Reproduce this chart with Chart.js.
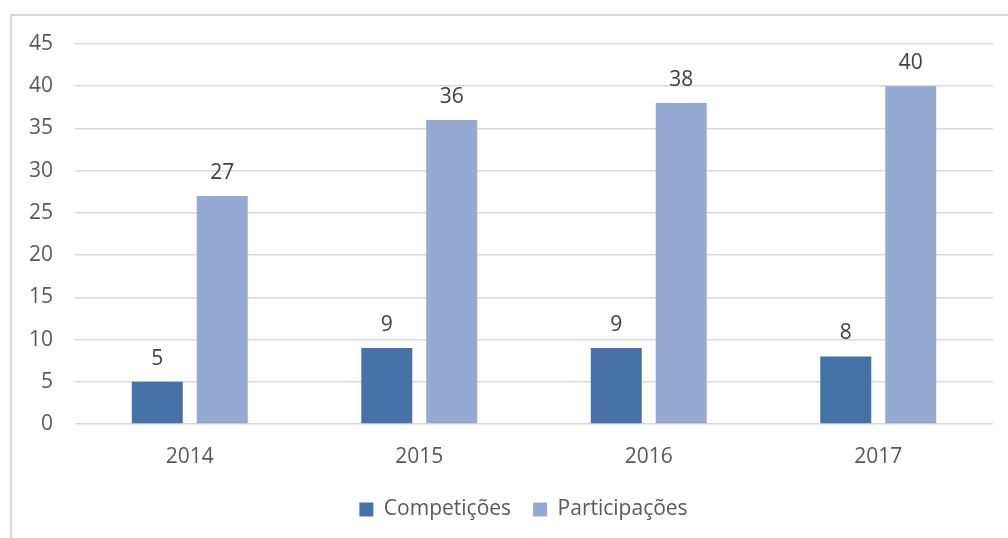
<!DOCTYPE html>
<html>
<head>
<meta charset="utf-8">
<script src="https://cdn.jsdelivr.net/npm/chart.js@4"></script>
<style>
  html, body { margin: 0; padding: 0; background: #fff; }
  #wrap { width: 1008px; height: 538px; position: relative; }
</style>
</head>
<body>
<div id="wrap"><canvas id="chart" width="1008" height="538"></canvas></div>
<script>
// chart values
const years = ['2014', '2015', '2016', '2017'];
const competicoes = [5, 9, 9, 8];
const participacoes = [27, 36, 38, 40];
const yTicks = { min: 0, max: 45, step: 5 };

const textColor = '#595959';
const fontFamily = "'Open Sans', 'Noto Sans', sans-serif";
const fontSize = 21;

// frame line (left and top edges only show in the picture)
const framePlugin = {
    id: 'frame',
    afterLayout(chart) {
        // the legend sits a bit right of the canvas centre
        chart.legend.left += 27;
        chart.legend.right += 27;
    },
    beforeDraw(chart) {
        const ctx = chart.ctx;
        ctx.save();
        ctx.strokeStyle = '#d9d9d9';
        ctx.lineWidth = 2;
        ctx.beginPath();
        ctx.moveTo(11, 600);
        ctx.lineTo(11, 15);
        ctx.lineTo(1100, 15);
        ctx.stroke();
        ctx.restore();
    }
};

// values written above each bar
const valueLabels = {
    id: 'valueLabels',
    afterDatasetsDraw(chart) {
        const ctx = chart.ctx;
        ctx.save();
        ctx.fillStyle = '#404040';
        ctx.font = fontSize + 'px ' + fontFamily;
        ctx.textAlign = 'center';
        ctx.textBaseline = 'middle';
        chart.data.datasets.forEach((ds, i) => {
            chart.getDatasetMeta(i).data.forEach((bar, j) => {
                ctx.fillText(ds.data[j], bar.x, bar.y - 23);
            });
        });
        ctx.restore();
    }
};

const ctx = document.getElementById('chart').getContext('2d');
new Chart(ctx, {
    type: 'bar',
    data: {
        labels: years,
        datasets: [{
            label: 'Competições',
            data: competicoes,
            backgroundColor: '#4672a8'
        }, {
            label: 'Participações',
            data: participacoes,
            backgroundColor: '#95aad2'
        }]
    },
    options: {
        responsive: false,
        animation: false,
        categoryPercentage: 0.566,
        barPercentage: 0.785,
        layout: { padding: { left: 0, right: 15, top: 44, bottom: 8 } },
        plugins: {
            tooltip: { enabled: false },
            legend: {
                position: 'bottom',
                labels: {
                    color: textColor,
                    font: { family: fontFamily, size: fontSize },
                    boxWidth: 14,
                    boxHeight: 14,
                    padding: 22
                }
            }
        },
        scales: {
            x: {
                grid: { display: false, drawTicks: false },
                border: { display: false },
                ticks: {
                    color: textColor,
                    font: { family: fontFamily, size: fontSize },
                    padding: 20
                },
                afterFit(scale) { scale.height = 53; }
            },
            y: {
                min: yTicks.min,
                max: yTicks.max,
                grid: { color: '#d9d9d9', lineWidth: 1.5, drawTicks: false },
                border: { display: false },
                ticks: {
                    stepSize: yTicks.step,
                    color: textColor,
                    font: { family: fontFamily, size: fontSize },
                    padding: 22
                },
                afterFit(scale) { scale.width = 75; }
            }
        }
    },
    plugins: [framePlugin, valueLabels]
});
</script>
</body>
</html>
